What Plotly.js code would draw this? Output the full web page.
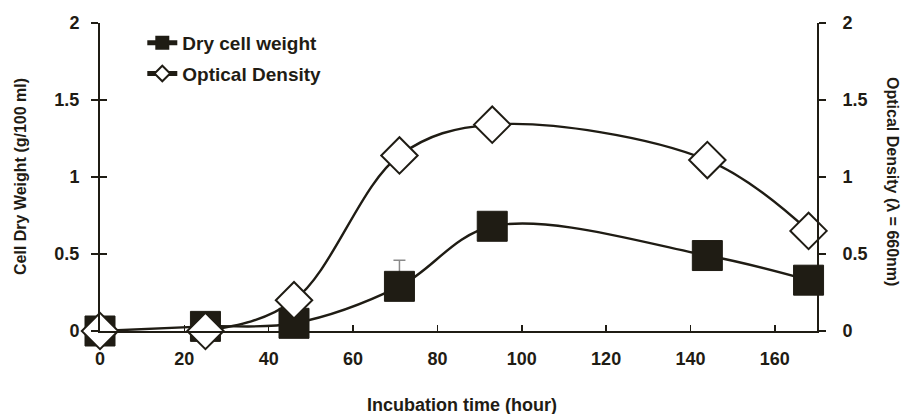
<!DOCTYPE html>
<html>
<head>
<meta charset="utf-8">
<script src="https://cdn.plot.ly/plotly-3.0.1.min.js"></script>
<style>html,body{margin:0;padding:0;background:#fff;}#chart{width:907px;height:414px;}</style>
</head>
<body>
<div id="chart"></div>
<script>
const hours = [0, 25, 46, 71, 93, 144, 168];
const dryWeight = [0, 0.03, 0.05, 0.29, 0.68, 0.49, 0.33];
const dryWeightErr = [0, 0, 0, 0.17, 0, 0, 0];
const opticalDensity = [0, 0, 0.20, 1.14, 1.34, 1.11, 0.65];
const xTicks = [0, 20, 40, 60, 80, 100, 120, 140, 160];
const yTicks = [0, 0.5, 1, 1.5, 2];
const yTickText = ['0', '0.5', '1', '1.5', '2'];

const ink = '#1f1c14';
const fontFam = 'Liberation Sans, Arial, sans-serif';

const traces = [
  {
    x: hours, y: dryWeight, name: 'Dry cell weight', legendgroup: 'a',
    mode: 'lines+markers', cliponaxis: false,
    line: {shape: 'spline', smoothing: 1, color: ink, width: 2.4},
    marker: {symbol: 'square', size: 30, color: ink, line: {color: ink, width: 1}},
    error_y: {type: 'data', symmetric: false, array: dryWeightErr, arrayminus: [0,0,0,0,0,0,0], color: '#8a8a8a', thickness: 1.5, width: 6}
  },
  {
    x: hours, y: opticalDensity, name: 'Optical Density', yaxis: 'y2', legendgroup: 'b',
    mode: 'lines+markers', cliponaxis: false,
    line: {shape: 'spline', smoothing: 1, color: ink, width: 2.4},
    marker: {symbol: 'diamond', size: 28, color: '#ffffff', line: {color: ink, width: 2}}
  }
];

const axisCommon = {
  range: [0, 2], tickvals: yTicks, ticktext: yTickText,
  showgrid: false, zeroline: false, linecolor: ink, linewidth: 2,
  ticklen: 7, tickwidth: 1.5, tickcolor: ink,
  tickfont: {size: 18, weight: 'bold', color: ink}
};

const layout = {
  width: 907, height: 414,
  margin: {l: 100, r: 90, t: 23, b: 83},
  paper_bgcolor: '#ffffff', plot_bgcolor: '#ffffff',
  font: {family: fontFam, color: ink},
  showlegend: true,
  legend: {x: 0.059, y: 0.997, xanchor: 'left', yanchor: 'top', traceorder: 'grouped',
           font: {size: 19, weight: 'bold', color: ink}, bgcolor: 'rgba(0,0,0,0)', itemsizing: 'constant', tracegroupgap: 3},
  xaxis: {
    range: [0, 170], tickvals: xTicks, ticktext: xTicks.map(String),
    showgrid: false, zeroline: false, showline: true, linecolor: ink, linewidth: 2,
    ticks: 'inside', ticklen: 6, tickwidth: 1.5, tickcolor: ink,
    tickfont: {size: 18, weight: 'bold', color: ink}, ticklabelstandoff: 10
  },
  yaxis: Object.assign({}, axisCommon, {showline: true, ticks: 'outside', ticklabelstandoff: 8}),
  yaxis3: Object.assign({}, axisCommon, {overlaying: 'y', side: 'left', showline: false, ticks: 'inside', showticklabels: false}),
  yaxis2: Object.assign({}, axisCommon, {overlaying: 'y', side: 'right', showline: true, ticks: 'outside', ticklabelstandoff: 13}),
  annotations: [
    {
      text: 'Cell Dry Weight (g/100 ml)', xref: 'paper', yref: 'paper', x: 0, y: 0.5,
      xanchor: 'center', yanchor: 'middle', xshift: -80, textangle: -90, showarrow: false,
      font: {size: 16, weight: 'bold', color: ink}
    },
    {
      text: 'Optical Density (λ = 660nm)', xref: 'paper', yref: 'paper', x: 1, y: 0.5,
      xanchor: 'center', yanchor: 'middle', xshift: 76, yshift: -4, textangle: 90, showarrow: false,
      font: {size: 16, weight: 'bold', color: ink}
    },
    {
      text: 'Incubation time (hour)', xref: 'paper', yref: 'paper', x: 0.5, y: 0,
      xanchor: 'center', yanchor: 'middle', xshift: 3, yshift: -74, showarrow: false,
      font: {size: 18, weight: 'bold', color: ink}
    }
  ]
};

// empty trace that activates the inner-tick axis (ticks crossing the left axis)
traces.push({x: [null], y: [null], yaxis: 'y3', showlegend: false, hoverinfo: 'skip'});

Plotly.newPlot('chart', traces, layout, {displayModeBar: false, staticPlot: true});
</script>
</body>
</html>
